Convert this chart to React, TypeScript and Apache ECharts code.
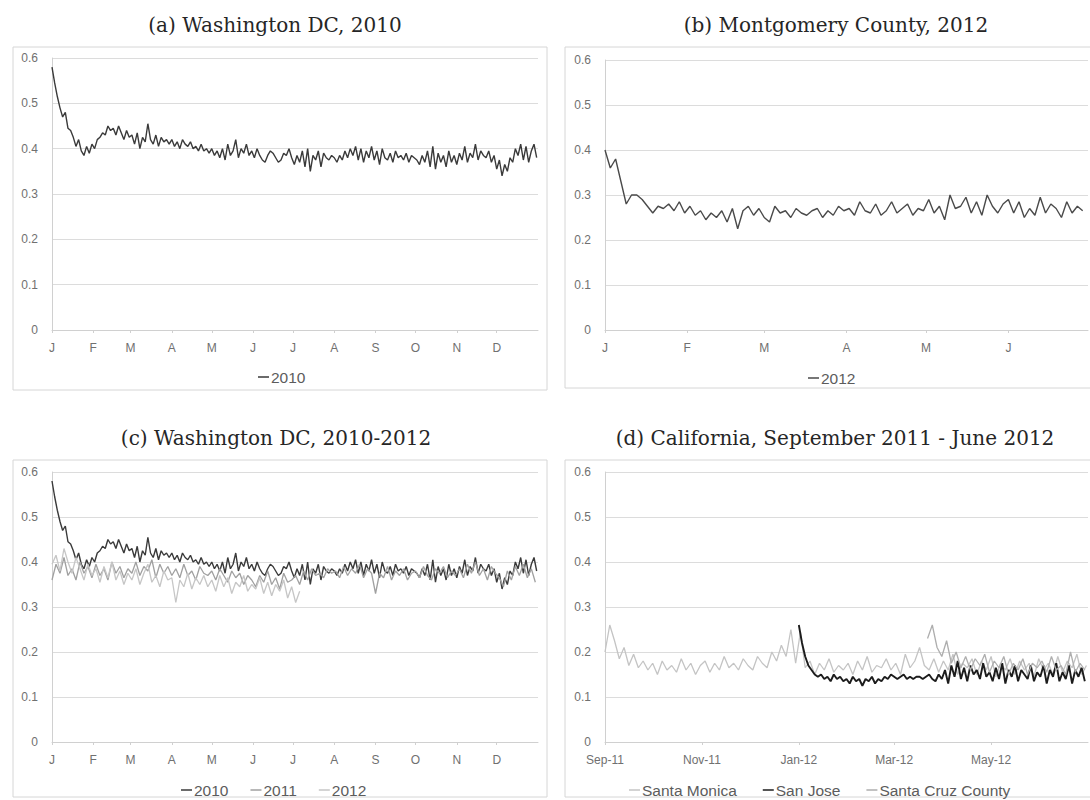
import React, { useEffect, useRef } from "react";
import * as echarts from "echarts";

// ---------- labels ----------
const yTickLabels = ["0", "0.1", "0.2", "0.3", "0.4", "0.5", "0.6"];
const monthLetters = ["J", "F", "M", "A", "M", "J", "J", "A", "S", "O", "N", "D"];
const monthStartsYear = [0, 31, 59, 90, 120, 151, 181, 212, 243, 273, 304, 334];
const monthLetters2012 = ["J", "F", "M", "A", "M", "J"];
const monthStarts2012 = [0, 31, 60, 91, 121, 152];
const caLabels = ["Sep-11", "Nov-11", "Jan-12", "Mar-12", "May-12"];
const caLabelDays = [0, 61, 122, 182, 243];

// ---------- data ----------
// Washington DC 2010, one value every 2 days from Jan 1
const dc2010 = [
  0.58, 0.545, 0.515, 0.49, 0.47, 0.48, 0.445, 0.44, 0.425, 0.405, 0.42, 0.395, 0.385, 0.405, 0.39, 0.41,
  0.4, 0.42, 0.425, 0.435, 0.43, 0.45, 0.44, 0.445, 0.43, 0.45, 0.435, 0.42, 0.44, 0.425,
  0.43, 0.41, 0.435, 0.4, 0.425, 0.415, 0.455, 0.42, 0.41, 0.43, 0.405, 0.425, 0.415, 0.42, 0.41,
  0.42, 0.405, 0.415, 0.4, 0.42, 0.41, 0.405, 0.415, 0.4, 0.405, 0.395, 0.41, 0.395, 0.4, 0.39,
  0.4, 0.385, 0.395, 0.38, 0.4, 0.375, 0.41, 0.385, 0.395, 0.42, 0.38, 0.4, 0.39, 0.41, 0.385, 0.395,
  0.38, 0.4, 0.385, 0.375, 0.37, 0.385, 0.395, 0.39, 0.38, 0.37, 0.375, 0.39, 0.385, 0.4, 0.38,
  0.365, 0.385, 0.37, 0.395, 0.36, 0.4, 0.35, 0.385, 0.375, 0.395, 0.36, 0.39, 0.38, 0.375, 0.385,
  0.38, 0.37, 0.385, 0.375, 0.395, 0.38, 0.4, 0.385, 0.405, 0.375, 0.4, 0.37, 0.395, 0.38, 0.405, 0.375,
  0.395, 0.365, 0.4, 0.38, 0.375, 0.39, 0.37, 0.395, 0.38, 0.385, 0.375, 0.39, 0.37, 0.385, 0.38,
  0.375, 0.365, 0.385, 0.37, 0.395, 0.36, 0.405, 0.355, 0.39, 0.37, 0.385, 0.36, 0.395, 0.37, 0.385,
  0.365, 0.39, 0.375, 0.405, 0.37, 0.39, 0.38, 0.41, 0.375, 0.395, 0.385, 0.38, 0.395, 0.37, 0.385,
  0.355, 0.375, 0.34, 0.365, 0.35, 0.38, 0.37, 0.4, 0.385, 0.41, 0.375, 0.405, 0.37, 0.395, 0.41, 0.38,
];
// Washington DC 2011, one value every 3 days from Jan 1
const dc2011 = [
  0.36, 0.395, 0.375, 0.41, 0.37, 0.385, 0.36, 0.4, 0.375, 0.39, 0.365,
  0.395, 0.37, 0.385, 0.36, 0.4, 0.375, 0.39, 0.365, 0.385,
  0.375, 0.4, 0.37, 0.39, 0.38, 0.405, 0.365, 0.395, 0.375, 0.39, 0.37,
  0.385, 0.365, 0.395, 0.37, 0.38, 0.36, 0.39, 0.375, 0.37,
  0.38, 0.36, 0.385, 0.37, 0.355, 0.38, 0.365, 0.375, 0.35, 0.37, 0.36,
  0.345, 0.37, 0.355, 0.38, 0.35, 0.365, 0.34, 0.375, 0.355, 0.36,
  0.37, 0.35, 0.38, 0.36, 0.385, 0.37, 0.375, 0.365, 0.385, 0.375,
  0.38, 0.365, 0.39, 0.37, 0.385, 0.375, 0.395, 0.365, 0.385, 0.375,
  0.33, 0.375, 0.365, 0.39, 0.36, 0.38, 0.37, 0.385, 0.36, 0.375,
  0.38, 0.365, 0.39, 0.37, 0.36, 0.385, 0.375, 0.39, 0.365, 0.38, 0.37,
  0.385, 0.365, 0.395, 0.375, 0.4, 0.37, 0.385, 0.36, 0.39, 0.375,
  0.365, 0.345, 0.38, 0.36, 0.39, 0.37, 0.395, 0.365, 0.385, 0.355,
];
// Washington DC 2012 (Jan - early Jul), one value every 3 days
const dc2012 = [
  0.395, 0.415, 0.38, 0.43, 0.4, 0.375, 0.41, 0.385, 0.36, 0.395, 0.37,
  0.385, 0.355, 0.39, 0.365, 0.4, 0.36, 0.38, 0.35, 0.375,
  0.36, 0.385, 0.35, 0.375, 0.395, 0.355, 0.37, 0.345, 0.38, 0.36, 0.365,
  0.31, 0.36, 0.345, 0.375, 0.34, 0.365, 0.35, 0.37, 0.345,
  0.36, 0.335, 0.37, 0.345, 0.365, 0.33, 0.355, 0.345, 0.37, 0.335, 0.35,
  0.34, 0.365, 0.33, 0.355, 0.325, 0.35, 0.335, 0.36, 0.32, 0.345,
  0.31, 0.335,
];
// Montgomery County 2012 (Jan - Jun), one value every 2 days
const mont2012 = [
  0.4, 0.36, 0.38, 0.33, 0.28, 0.3, 0.3, 0.29, 0.275, 0.26, 0.275, 0.27, 0.28, 0.265, 0.285, 0.26,
  0.275, 0.255, 0.265, 0.245, 0.26, 0.25, 0.265, 0.24, 0.27, 0.225, 0.265, 0.275, 0.255, 0.27,
  0.25, 0.24, 0.275, 0.26, 0.265, 0.25, 0.27, 0.26, 0.255, 0.265, 0.27, 0.25, 0.265, 0.255, 0.275, 0.265,
  0.27, 0.255, 0.285, 0.265, 0.26, 0.28, 0.255, 0.265, 0.285, 0.26, 0.27, 0.28, 0.255, 0.27, 0.265,
  0.29, 0.26, 0.275, 0.245, 0.3, 0.27, 0.275, 0.295, 0.26, 0.285, 0.255, 0.3, 0.275, 0.26, 0.28,
  0.29, 0.26, 0.285, 0.25, 0.27, 0.255, 0.295, 0.26, 0.28, 0.27, 0.25, 0.285, 0.26, 0.275, 0.265,
];
// California (day 0 = Sep 1 2011)
const santaMonica = [
  0.2, 0.26, 0.225, 0.185, 0.21, 0.17, 0.195, 0.165, 0.18, 0.16,
  0.175, 0.15, 0.18, 0.16, 0.17, 0.155, 0.185, 0.16, 0.175, 0.15,
  0.17, 0.18, 0.155, 0.175, 0.16, 0.19, 0.165, 0.175, 0.16, 0.185,
  0.17, 0.16, 0.19, 0.175, 0.165, 0.2, 0.18, 0.215, 0.19, 0.25, 0.175,
  0.245, 0.165, 0.18, 0.15, 0.175, 0.16, 0.185, 0.155, 0.17, 0.16,
  0.175, 0.15, 0.18, 0.16, 0.19, 0.155, 0.17, 0.165, 0.185, 0.16,
  0.175, 0.15, 0.195, 0.165, 0.18, 0.21, 0.17, 0.16, 0.185, 0.155,
  0.18, 0.16, 0.195, 0.15, 0.175, 0.165, 0.185, 0.15, 0.18, 0.16,
  0.19, 0.145, 0.175, 0.16, 0.185, 0.15, 0.18, 0.16, 0.175, 0.145, 0.185,
  0.16, 0.175, 0.15, 0.19, 0.155, 0.18, 0.165, 0.195, 0.15, 0.17,
];
const sanJose = [
  0.26, 0.22, 0.19, 0.17, 0.16, 0.15, 0.145, 0.15, 0.14, 0.145, 0.135, 0.15, 0.14, 0.145, 0.135, 0.14,
  0.13, 0.145, 0.135, 0.14, 0.125, 0.14, 0.135, 0.145, 0.13, 0.14, 0.135, 0.145, 0.14, 0.15,
  0.145, 0.14, 0.145, 0.15, 0.14, 0.145, 0.14, 0.145, 0.145, 0.14, 0.145, 0.15, 0.14, 0.135, 0.15, 0.14,
  0.16, 0.13, 0.17, 0.145, 0.18, 0.14, 0.165, 0.135, 0.17, 0.15, 0.16, 0.14, 0.175, 0.145, 0.155,
  0.135, 0.165, 0.14, 0.175, 0.13, 0.16, 0.145, 0.17, 0.135, 0.16, 0.15, 0.14, 0.17, 0.135, 0.155,
  0.145, 0.17, 0.13, 0.16, 0.145, 0.175, 0.135, 0.155, 0.14, 0.17, 0.13, 0.16, 0.145, 0.165, 0.135,
];
const santaCruz = [
  0.23, 0.26, 0.21, 0.19, 0.225, 0.175, 0.2, 0.165, 0.19, 0.16, 0.185, 0.17, 0.195, 0.155, 0.18, 0.165, 0.19,
  0.15, 0.175, 0.16, 0.185, 0.15, 0.175, 0.165, 0.18, 0.155, 0.19, 0.16, 0.17, 0.15, 0.2, 0.155, 0.175, 0.16,
];

const toPoints = (values: number[], start: number, step: number) =>
  values.map((v, i) => [start + i * step, v]);

const LABEL_FONT = "Liberation Sans";
const labelColor = "#707070";
const gridColor = "#dcdcdc";

function makeX(gridIndex: number, max: number, ticks: number[], labels: string[]) {
  return {
    type: "value",
    gridIndex,
    min: 0,
    max,
    splitLine: { show: false },
    axisLine: { show: true, lineStyle: { color: "#d0d0d0", width: 1 } },
    axisTick: { show: true, customValues: ticks, length: 3, lineStyle: { color: "#d0d0d0" } },
    axisLabel: {
      customValues: ticks,
      formatter: (v: number) => {
        const i = ticks.indexOf(v);
        return i >= 0 ? labels[i] : "";
      },
      fontSize: 12,
      fontFamily: LABEL_FONT,
      color: labelColor,
      margin: 12,
    },
  };
}

function makeY(gridIndex: number) {
  return {
    type: "value",
    gridIndex,
    min: 0,
    max: 0.6,
    interval: 0.1,
    axisLine: { show: true, lineStyle: { color: "#d0d0d0", width: 1 } },
    axisTick: { show: false },
    splitLine: { show: true, lineStyle: { color: gridColor, width: 1 } },
    axisLabel: {
      formatter: (v: number) => yTickLabels[Math.round(v * 10)] ?? "",
      fontSize: 12,
      fontFamily: LABEL_FONT,
      color: labelColor,
      margin: 14,
    },
  };
}

function line(name: string, axis: number, data: number[][], color: string, width = 1.3) {
  return {
    type: "line",
    name,
    xAxisIndex: axis,
    yAxisIndex: axis,
    data,
    symbol: "none",
    showSymbol: false,
    lineStyle: { color, width },
    itemStyle: { color },
    emphasis: { disabled: true },
  };
}

const c2010 = "#3a3a3a";
const c2011 = "#a0a0a0";
const c2012 = "#c6c6c6";
const cMont = "#4a4a4a";
const cSM = "#c4c4c4";
const cSJ = "#1c1c1c";
const cSC = "#aeaeae";

function legendBox(left: number, top: number, gap: number, items: { name: string; color: string }[]) {
  return {
    left,
    top,
    orient: "horizontal",
    icon: "rect",
    itemWidth: 11,
    itemHeight: 1.5,
    itemGap: gap,
    selectedMode: false,
    textStyle: { fontSize: 15.5, fontFamily: LABEL_FONT, color: "#5c5c5c", padding: [0, 0, 0, -3] },
    data: items.map((it) => ({ name: it.name, itemStyle: { color: it.color }, lineStyle: { color: it.color } })),
  };
}

const titleText = (text: string, x: number, y: number) => ({
  type: "text",
  x,
  y,
  silent: true,
  style: {
    text,
    fill: "#262626",
    font: '20px "DejaVu Serif"',
    textAlign: "center",
    align: "center",
    textVerticalAlign: "middle",
    verticalAlign: "middle",
  },
});

const box = (x: number, y: number, w: number, h: number) => ({
  type: "rect",
  silent: true,
  z: -10,
  shape: { x, y, width: w, height: h },
  style: { fill: "none", stroke: "#d6d6d6", lineWidth: 1 },
});

const option = {
  animation: false,
  backgroundColor: "#ffffff",
  grid: [
    { left: 52, top: 58, width: 486, height: 272 },
    { left: 605, top: 60, width: 483, height: 270 },
    { left: 52, top: 472, width: 486, height: 270 },
    { left: 605, top: 472, width: 483, height: 270 },
  ],
  xAxis: [
    makeX(0, 365, monthStartsYear, monthLetters),
    makeX(1, 182, monthStarts2012, monthLetters2012),
    makeX(2, 365, monthStartsYear, monthLetters),
    makeX(3, 304, caLabelDays, caLabels),
  ],
  yAxis: [makeY(0), makeY(1), makeY(2), makeY(3)],
  legend: [
    legendBox(253, 364, 20, [{ name: "2010", color: c2010 }]),
    legendBox(803, 365, 20, [{ name: "2012", color: cMont }]),
    legendBox(176, 777, 22, [
      { name: "2010", color: c2010 },
      { name: "2011", color: c2011 },
      { name: "2012", color: c2012 },
    ]),
    legendBox(624, 777, 26, [
      { name: "Santa Monica", color: cSM },
      { name: "San Jose", color: cSJ },
      { name: "Santa Cruz County", color: cSC },
    ]),
  ],
  graphic: [
    box(13, 47, 534, 343),
    box(565, 47, 600, 341),
    box(13, 460, 534, 337),
    box(565, 460, 600, 337),
    titleText("(a) Washington DC, 2010", 275, 25),
    titleText("(b) Montgomery County, 2012", 836, 25),
    titleText("(c) Washington DC, 2010-2012", 276, 438),
    titleText("(d) California, September 2011 - June 2012", 835, 438),
  ],
  series: [
    line("2010", 0, toPoints(dc2010, 0, 2), c2010, 1.4),
    line("2012", 1, toPoints(mont2012, 0, 2), cMont, 1.4),
    line("2010", 2, toPoints(dc2010, 0, 2), c2010, 1.4),
    line("2011", 2, toPoints(dc2011, 0, 3), c2011),
    line("2012", 2, toPoints(dc2012, 0, 3), c2012),
    line("Santa Monica", 3, toPoints(santaMonica, 0, 3), cSM),
    line("San Jose", 3, toPoints(sanJose, 122, 2), cSJ, 1.9),
    line("Santa Cruz County", 3, toPoints(santaCruz, 203, 3), cSC),
  ],
};

export default function App() {
  const ref = useRef<HTMLDivElement>(null);
  useEffect(() => {
    if (!ref.current) return;
    const chart = echarts.init(ref.current, null, { renderer: "svg" });
    chart.setOption(option as any);
    return () => chart.dispose();
  }, []);
  return (
    <div
      ref={ref}
      style={{ position: "fixed", left: 0, top: 0, width: 1090, height: 800, background: "#fff" }}
    />
  );
}
